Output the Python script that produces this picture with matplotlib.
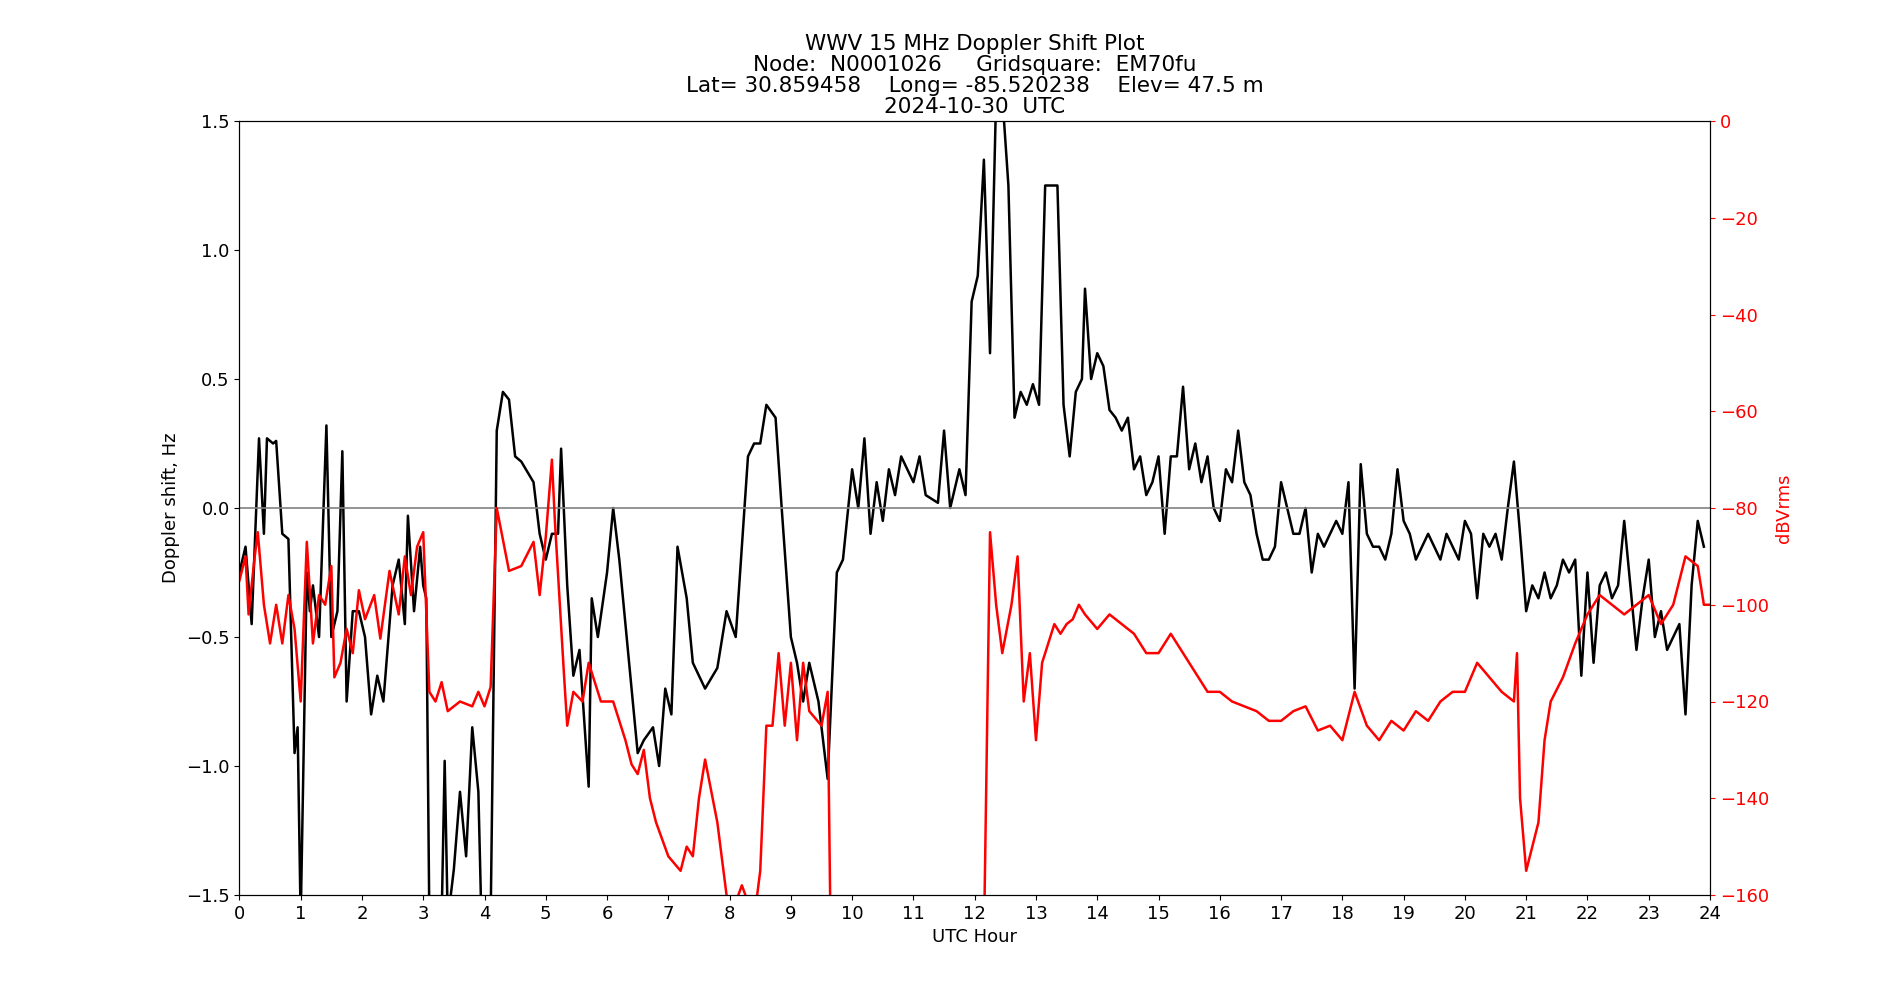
import numpy as np
import matplotlib
matplotlib.use("Agg")
import matplotlib.pyplot as plt

# Doppler shift (Hz) sampled from the plot
dop_t = [0, 0.1, 0.2, 0.32, 0.4, 0.45, 0.55, 0.6, 0.7, 0.8, 0.9, 0.95, 1.0, 1.1, 1.15, 1.2, 1.3, 1.42, 1.5, 1.6,
         1.68, 1.75, 1.85, 1.95, 2.05, 2.15, 2.25, 2.35, 2.5, 2.6, 2.7, 2.75, 2.85, 2.95, 3.0, 3.05, 3.1, 3.3, 3.35, 3.4,
         3.5, 3.6, 3.7, 3.8, 3.9, 3.95, 4.1, 4.2, 4.3, 4.4, 4.5, 4.6, 4.8, 4.9, 5.0, 5.1, 5.2, 5.25, 5.35, 5.45,
         5.55, 5.7, 5.75, 5.85, 6.0, 6.1, 6.2, 6.4, 6.5, 6.6, 6.75, 6.85, 6.95, 7.05, 7.15, 7.3, 7.4, 7.6, 7.8, 7.95,
         8.1, 8.3, 8.4, 8.5, 8.6, 8.75, 8.85, 9.0, 9.1, 9.2, 9.3, 9.45, 9.6, 9.75, 9.85, 10.0, 10.1, 10.2, 10.3, 10.4,
         10.5, 10.6, 10.7, 10.8, 11.0, 11.1, 11.2, 11.4, 11.5, 11.6, 11.75, 11.85, 11.95, 12.05, 12.15, 12.25, 12.35, 12.45, 12.55, 12.65,
         12.75, 12.85, 12.95, 13.05, 13.15, 13.25, 13.35, 13.45, 13.55, 13.65, 13.75, 13.8, 13.9, 14.0, 14.1, 14.2, 14.3, 14.4, 14.5, 14.6,
         14.7, 14.8, 14.9, 15.0, 15.1, 15.2, 15.3, 15.4, 15.5, 15.6, 15.7, 15.8, 15.9, 16.0, 16.1, 16.2, 16.3, 16.4, 16.5, 16.6,
         16.7, 16.8, 16.9, 17.0, 17.1, 17.2, 17.3, 17.4, 17.5, 17.6, 17.7, 17.8, 17.9, 18.0, 18.1, 18.2, 18.3, 18.4, 18.5, 18.6,
         18.7, 18.8, 18.9, 19.0, 19.1, 19.2, 19.3, 19.4, 19.5, 19.6, 19.7, 19.8, 19.9, 20.0, 20.1, 20.2, 20.3, 20.4, 20.5, 20.6,
         20.7, 20.8, 20.9, 21.0, 21.1, 21.2, 21.3, 21.4, 21.5, 21.6, 21.7, 21.8, 21.9, 22.0, 22.1, 22.2, 22.3, 22.4, 22.5, 22.6,
         22.7, 22.8, 22.9, 23.0, 23.1, 23.2, 23.3, 23.4, 23.5, 23.6, 23.7, 23.8, 23.9]
dop_hz = [-0.25, -0.15, -0.45, 0.27, -0.1, 0.27, 0.25, 0.26, -0.1, -0.12, -0.95, -0.85, -1.6, -0.25, -0.4, -0.3, -0.5, 0.32, -0.5, -0.4,
          0.22, -0.75, -0.4, -0.4, -0.5, -0.8, -0.65, -0.75, -0.3, -0.2, -0.45, -0.03, -0.4, -0.15, -0.3, -0.35, -1.6, -1.6, -0.98, -1.6,
          -1.4, -1.1, -1.35, -0.85, -1.1, -1.6, -1.6, 0.3, 0.45, 0.42, 0.2, 0.18, 0.1, -0.1, -0.2, -0.1, -0.1, 0.23, -0.3, -0.65,
          -0.55, -1.08, -0.35, -0.5, -0.25, 0.0, -0.2, -0.7, -0.95, -0.9, -0.85, -1.0, -0.7, -0.8, -0.15, -0.35, -0.6, -0.7, -0.62, -0.4,
          -0.5, 0.2, 0.25, 0.25, 0.4, 0.35, 0.0, -0.5, -0.6, -0.75, -0.6, -0.75, -1.05, -0.25, -0.2, 0.15, 0.0, 0.27, -0.1, 0.1,
          -0.05, 0.15, 0.05, 0.2, 0.1, 0.2, 0.05, 0.02, 0.3, 0.0, 0.15, 0.05, 0.8, 0.9, 1.35, 0.6, 1.6, 1.6, 1.25, 0.35,
          0.45, 0.4, 0.48, 0.4, 1.25, 1.25, 1.25, 0.4, 0.2, 0.45, 0.5, 0.85, 0.5, 0.6, 0.55, 0.38, 0.35, 0.3, 0.35, 0.15,
          0.2, 0.05, 0.1, 0.2, -0.1, 0.2, 0.2, 0.47, 0.15, 0.25, 0.1, 0.2, 0.0, -0.05, 0.15, 0.1, 0.3, 0.1, 0.05, -0.1,
          -0.2, -0.2, -0.15, 0.1, 0.0, -0.1, -0.1, 0.0, -0.25, -0.1, -0.15, -0.1, -0.05, -0.1, 0.1, -0.7, 0.17, -0.1, -0.15, -0.15,
          -0.2, -0.1, 0.15, -0.05, -0.1, -0.2, -0.15, -0.1, -0.15, -0.2, -0.1, -0.15, -0.2, -0.05, -0.1, -0.35, -0.1, -0.15, -0.1, -0.2,
          0.0, 0.18, -0.1, -0.4, -0.3, -0.35, -0.25, -0.35, -0.3, -0.2, -0.25, -0.2, -0.65, -0.25, -0.6, -0.3, -0.25, -0.35, -0.3, -0.05,
          -0.3, -0.55, -0.35, -0.2, -0.5, -0.4, -0.55, -0.5, -0.45, -0.8, -0.3, -0.05, -0.15]

# Signal level (dBVrms)
amp_t = [0, 0.1, 0.15, 0.25, 0.3, 0.4, 0.5, 0.6, 0.7, 0.8, 0.9, 1.0, 1.1, 1.2, 1.3, 1.4, 1.5, 1.55, 1.65, 1.75,
         1.85, 1.95, 2.05, 2.2, 2.3, 2.45, 2.6, 2.7, 2.8, 2.9, 3.0, 3.1, 3.2, 3.3, 3.4, 3.6, 3.8, 3.9, 4.0, 4.1,
         4.2, 4.4, 4.6, 4.8, 4.9, 5.0, 5.1, 5.15, 5.3, 5.35, 5.45, 5.6, 5.7, 5.9, 6.1, 6.3, 6.4, 6.5, 6.6, 6.7,
         6.8, 7.0, 7.2, 7.3, 7.4, 7.5, 7.6, 7.8, 7.9, 8.0, 8.2, 8.4, 8.5, 8.6, 8.7, 8.8, 8.9, 9.0, 9.1, 9.2,
         9.3, 9.5, 9.6, 9.65, 12.15, 12.25, 12.35, 12.45, 12.6, 12.7, 12.8, 12.9, 13.0, 13.1, 13.2, 13.3, 13.4, 13.5, 13.6, 13.7,
         13.8, 14.0, 14.2, 14.4, 14.6, 14.8, 15.0, 15.2, 15.4, 15.6, 15.8, 16.0, 16.2, 16.4, 16.6, 16.8, 17.0, 17.2, 17.4, 17.6,
         17.8, 18.0, 18.2, 18.4, 18.6, 18.8, 19.0, 19.2, 19.4, 19.6, 19.8, 20.0, 20.2, 20.4, 20.6, 20.8, 20.85, 20.9, 21.0, 21.2,
         21.3, 21.4, 21.6, 21.8, 22.0, 22.2, 22.4, 22.6, 22.8, 23.0, 23.2, 23.4, 23.6, 23.8, 23.9, 24.0]
amp_db = [-95, -90, -102, -90, -85, -100, -108, -100, -108, -98, -105, -120, -87, -108, -98, -100, -92, -115, -112, -105,
          -110, -97, -103, -98, -107, -93, -102, -90, -98, -88, -85, -118, -120, -116, -122, -120, -121, -118, -121, -117,
          -80, -93, -92, -87, -98, -86, -70, -83, -115, -125, -118, -120, -112, -120, -120, -128, -133, -135, -130, -140,
          -145, -152, -155, -150, -152, -140, -132, -145, -155, -165, -158, -165, -155, -125, -125, -110, -125, -112, -128, -112,
          -122, -125, -118, -170, -170, -85, -100, -110, -100, -90, -120, -110, -128, -112, -108, -104, -106, -104, -103, -100,
          -102, -105, -102, -104, -106, -110, -110, -106, -110, -114, -118, -118, -120, -121, -122, -124, -124, -122, -121, -126,
          -125, -128, -118, -125, -128, -124, -126, -122, -124, -120, -118, -118, -112, -115, -118, -120, -110, -140, -155, -145,
          -128, -120, -115, -108, -102, -98, -100, -102, -100, -98, -104, -100, -90, -92, -100, -100]

fig = plt.figure(figsize=(19, 10), dpi=100)
ax = fig.add_axes([0.126, 0.105, 0.774, 0.774])
ax.plot(dop_t, dop_hz, color='black', linewidth=1.8)
ax.axhline(0, color='gray', linewidth=1.2)
ax.set_xlim(0, 24)
ax.set_ylim(-1.5, 1.5)
ax.set_xticks(range(0, 25))
ax.set_xlabel('UTC Hour', fontsize=13)
ax.set_ylabel('Doppler shift, Hz', fontsize=13)
ax.tick_params(labelsize=13)

ax2 = ax.twinx()
ax2.plot(amp_t, amp_db, color='red', linewidth=1.8)
ax2.set_ylim(-160, 0)
ax2.set_ylabel('dBVrms', color='red', fontsize=13)
ax2.tick_params(axis='y', colors='red', labelsize=13)

ax.set_title('WWV 15 MHz Doppler Shift Plot\n'
             'Node:  N0001026     Gridsquare:  EM70fu\n'
             'Lat= 30.859458    Long= -85.520238    Elev= 47.5 m\n'
             '2024-10-30  UTC', fontsize=15.5, linespacing=1.05)

fig.savefig('out.png', dpi=100)
